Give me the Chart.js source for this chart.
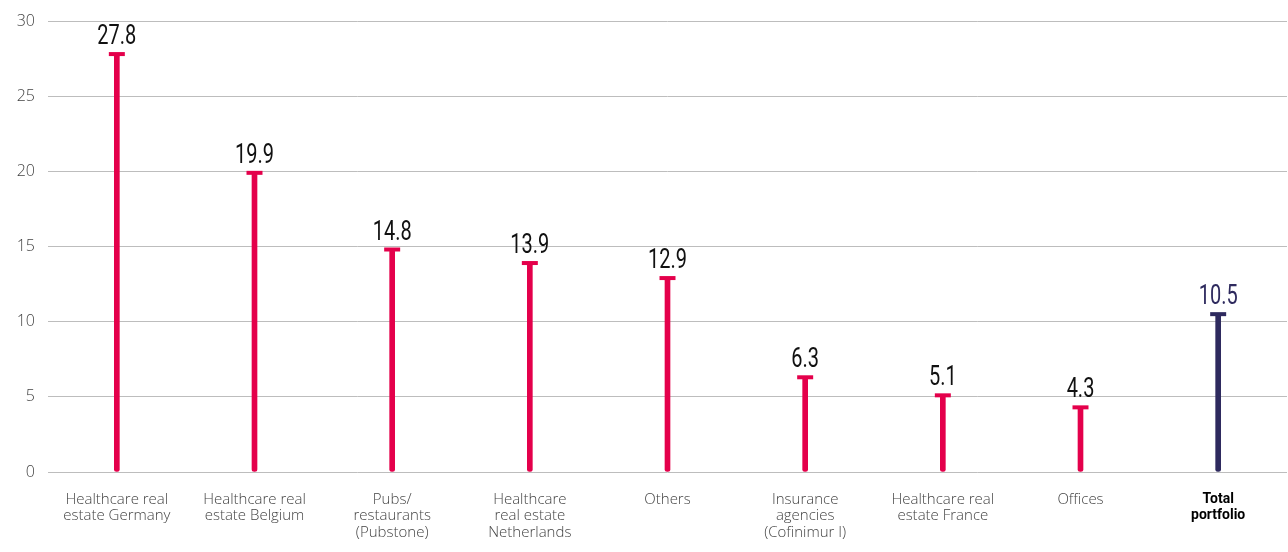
<!DOCTYPE html>
<html>
<head>
<meta charset="utf-8">
<script src="https://cdn.jsdelivr.net/npm/chart.js@4"></script>
<style>
  html, body { margin: 0; padding: 0; background: #fff; }
  #wrap { width: 1288px; height: 552px; position: relative; }
</style>
</head>
<body>
<div id="wrap"><canvas id="chart"></canvas></div>
<script>
const categories = [
    ['Healthcare real', 'estate Germany'],
    ['Healthcare real', 'estate Belgium'],
    ['Pubs/', 'restaurants', '(Pubstone)'],
    ['Healthcare', 'real estate', 'Netherlands'],
    ['Others'],
    ['Insurance', 'agencies', '(Cofinimur I)'],
    ['Healthcare real', 'estate France'],
    ['Offices'],
    ['Total', 'portfolio']
];
const values = [27.8, 19.9, 14.8, 13.9, 12.9, 6.3, 5.1, 4.3, 10.5];
const yTicks = [0, 5, 10, 15, 20, 25, 30];

const RED = '#e4004b';
const NAVY = '#2e2a5e';
const barColors = values.map((v, i) => i === values.length - 1 ? NAVY : RED);

// value labels above the caps (condensed look via horizontal scale)
const valueLabels = {
    id: 'valueLabels',
    afterDatasetsDraw(chart) {
        const ctx = chart.ctx;
        const meta = chart.getDatasetMeta(1);
        meta.data.forEach((pt, i) => {
            ctx.save();
            ctx.translate(pt.x, pt.y - 10);
            ctx.scale(0.74, 1);
            ctx.font = '400 27px Roboto, sans-serif';
            ctx.textAlign = 'center';
            ctx.textBaseline = 'alphabetic';
            ctx.fillStyle = i === values.length - 1 ? NAVY : '#111';
            ctx.fillText(values[i].toFixed(1), 0, 0);
            ctx.restore();
        });
    }
};

const ctx = document.getElementById('chart').getContext('2d');
new Chart(ctx, {
    type: 'bar',
    data: {
        labels: categories,
        datasets: [{
            data: values,
            backgroundColor: barColors,
            barThickness: 5,
            borderRadius: 3,
            borderSkipped: false,
            order: 2
        }, {
            type: 'line',
            data: values,
            showLine: false,
            pointStyle: 'line',
            pointRadius: 8,
            pointHoverRadius: 8,
            pointBorderWidth: 4,
            pointBorderColor: barColors,
            pointBackgroundColor: barColors,
            order: 1
        }]
    },
    options: {
        responsive: true,
        maintainAspectRatio: false,
        animation: false,
        layout: { autoPadding: false, padding: { top: 4, right: 1, left: 0, bottom: 0 } },
        plugins: {
            legend: { display: false },
            tooltip: { enabled: false }
        },
        scales: {
            x: {
                grid: { display: false },
                border: { display: false },
                ticks: {
                    maxRotation: 0,
                    autoSkip: false,
                    padding: 11,
                    color: (c) => c.index === values.length - 1 ? '#000' : '#444',
                    font: (c) => c.index === values.length - 1
                        ? { family: 'Roboto', size: 14, weight: 'bold', lineHeight: 1.18 }
                        : { family: 'Open Sans', size: 15, weight: 300, lineHeight: 1.1 }
                },
                afterFit(scale) { scale.height = 80; }
            },
            y: {
                min: 0,
                max: 30,
                afterBuildTicks(scale) { scale.ticks = yTicks.map(v => ({ value: v })); },
                grid: { color: '#bdbdbd', lineWidth: 1, drawTicks: false },
                border: { display: false },
                ticks: {
                    padding: 13,
                    color: '#444',
                    font: { family: 'Open Sans', size: 16, weight: 300, lineHeight: 1 }
                },
                afterFit(scale) { scale.width = 48; }
            }
        }
    },
    plugins: [valueLabels]
});
</script>
</body>
</html>
